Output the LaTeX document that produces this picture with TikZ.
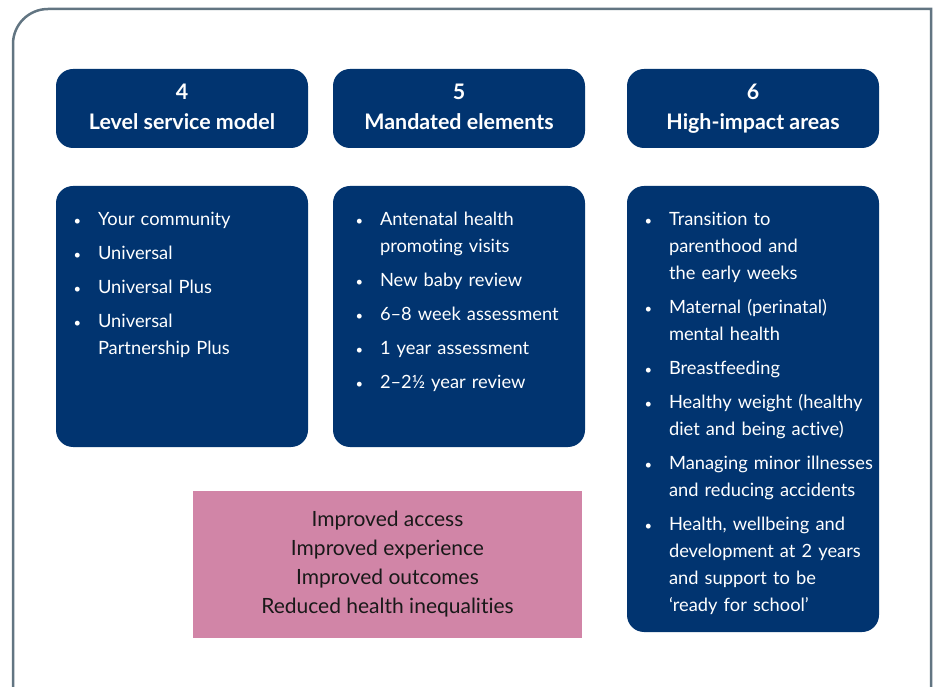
\documentclass[tikz,border=0pt]{standalone}
\usepackage{fontspec}
\setmainfont{Lato}[Ligatures=NoCommon]
\usetikzlibrary{positioning}
\definecolor{navy}{RGB}{1,52,112}
\definecolor{rose}{RGB}{209,133,167}
\definecolor{framegrey}{RGB}{98,117,130}
\newcommand{\smallbul}{\makebox[5pt]{\fontsize{13}{13}\selectfont\textbullet}}
\newenvironment{boxlist}{\begin{list}{\smallbul}{\setlength\leftmargin{23pt}\setlength\labelwidth{5pt}\setlength\labelsep{18pt}\setlength\itemsep{7pt}\setlength\parsep{0pt}\setlength\topsep{0pt}\setlength\partopsep{0pt}}}{\end{list}}

\begin{document}
\begin{tikzpicture}[x=1pt,y=1pt,
  headbox/.style={fill=navy, rounded corners=17pt, minimum width=252pt, minimum height=79pt, text height=48pt, text depth=5pt, text=white, align=center, font=\fontsize{21.4}{30}\selectfont\bfseries},
  bodybox/.style={fill=navy, rounded corners=17pt, minimum width=252pt},
  listtext/.style={text=white, text width=300pt, align=left, inner sep=0pt, font=\fontsize{18.3}{27}\selectfont},
  outcomebox/.style={fill=rose, minimum width=389pt, minimum height=147pt, align=center, text={black!90}, font=\fontsize{21}{29}\selectfont}]
\useasboundingbox (0,0) rectangle (934,686);
% outer frame, open at the bottom
\draw[framegrey, line width=2.5pt] (13,-5)--(13,642) arc[start angle=180, end angle=90, radius=35]--(931,677)--(931,-5);

% headings
\node[headbox] (headA) at (182,577.5) {4\\Level service model};
\node[headbox] (headB) at (459,577.5) {5\\Mandated elements};
\node[headbox] (headC) at (753,577.5) {6\\High-impact areas};

% boxes under the headings
\node[bodybox, minimum height=261pt] (bodyA) at (182,369.5) {};
\node[bodybox, minimum height=261pt] (bodyB) at (459,369.5) {};
\node[bodybox, minimum height=446pt] (bodyC) at (753,277) {};

\node[listtext, below right=12.5pt and 19pt of bodyA.north west] (listA) {\begin{boxlist}
\item Your community
\item Universal
\item Universal Plus
\item Universal\\Partnership Plus
\end{boxlist}};
\node[listtext, below right=12.5pt and 24pt of bodyB.north west] (listB) {\begin{boxlist}
\item Antenatal health\\promoting visits
\item New baby review
\item 6--8 week assessment
\item 1 year assessment
\item 2--2½ year review
\end{boxlist}};
\node[listtext, below right=12.5pt and 19pt of bodyC.north west] (listC) {\begin{boxlist}
\item Transition to\\parenthood and\\the early weeks
\item Maternal (perinatal)\\mental health
\item Breastfeeding
\item Healthy weight (healthy\\diet and being active)
\item Managing minor illnesses\\and reducing accidents
\item Health, wellbeing and\\development at 2 years\\and support to be\\‘ready for school’
\end{boxlist}};

% outcomes
\node[outcomebox] (outcomes) at (387.5,121.5) {Improved access\\Improved experience\\Improved outcomes\\Reduced health inequalities};
\end{tikzpicture}
\end{document}
